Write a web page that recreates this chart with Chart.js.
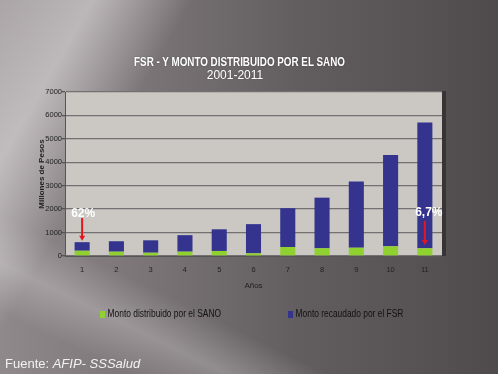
<!DOCTYPE html>
<html>
<head>
<meta charset="utf-8">
<script src="https://cdn.jsdelivr.net/npm/chart.js@4.4.0/dist/chart.umd.min.js"></script>
<style>
    html, body { margin: 0; padding: 0; }
    body {
        width: 498px; height: 374px; overflow: hidden; position: relative;
        background:
            linear-gradient(120deg, rgba(235,230,233,0.3) 0%, rgba(235,230,233,0.55) 13%, rgba(235,230,233,0) 27%),
            linear-gradient(26deg, rgba(235,230,233,0) 10%, rgba(235,230,233,0.28) 18%, rgba(235,230,233,0) 26%),
            linear-gradient(90deg, #8f898b 0%, #7a7476 30%, #625d5f 60%, #4f4b4d 100%);
        font-family: "Liberation Sans", Arial, sans-serif;
    }
    #wrap { position: absolute; left: 0; top: 0; width: 498px; height: 374px; }
    .txt { position: absolute; color: #fff; white-space: nowrap; }
    #title { left: 0; width: 479px; top: 55px; text-align: center; line-height: 14px;
        font-weight: bold; font-size: 12px; transform: scaleX(0.82);
        text-shadow: 0 0 2px rgba(0,0,0,0.35); }
    #subtitle { left: 0; width: 470px; top: 68px; text-align: center; line-height: 14px; font-size: 12px;
        text-shadow: 0 0 2px rgba(0,0,0,0.25); }
    #fuente { left: 5px; top: 356px; font-size: 13px; line-height: 16px; color: #f2f2f2; }
    .leg { position: absolute; top: 307px; line-height: 13px; color: #111; white-space: nowrap;
        font-size: 10px; transform: scaleX(0.84); transform-origin: 0 50%; }
    .leg i { display: inline-block; width: 6px; height: 7px; margin-right: 3px; vertical-align: -1px; }
</style>
</head>
<body>
<div id="wrap"><canvas id="chart" width="498" height="374"></canvas></div>
<div class="txt" id="title">FSR - Y MONTO DISTRIBUIDO POR EL SANO</div>
<div class="txt" id="subtitle">2001-2011</div>
<div id="legend"></div>
<div class="txt" id="fuente">Fuente: <i>AFIP- SSSalud</i></div>
<script>
const years = ['1', '2', '3', '4', '5', '6', '7', '8', '9', '10', '11'];
const sanoValues = [225, 185, 140, 185, 215, 115, 385, 330, 355, 415, 330];
const fsrValues = [365, 445, 530, 705, 925, 1245, 1655, 2160, 2825, 3895, 5370];
const seriesLabels = ['Monto distribuido por el SANO', 'Monto recaudado por el FSR'];
const seriesColors = ['#8fd12e', '#34348f'];

// annotations: bar index, text, text value, arrow start, arrow tip (data units)
const noteIndex = [0, 10];
const noteText = ['62%', '6,7%'];
const noteTextValue = [1800, 1830];
const noteArrowFrom = [1620, 1500];
const noteArrowTo = [650, 470];

const sans = '"Liberation Sans", Arial, sans-serif';

const plotBackground = {
    id: 'plotBackground',
    beforeDraw(chart) {
        const { ctx, chartArea: a } = chart;
        ctx.save();
        ctx.fillStyle = 'rgba(0,0,0,0.35)';
        ctx.fillRect(a.right, a.top - 1, 4, a.bottom - a.top + 1);
        ctx.fillStyle = '#cbc8c4';
        ctx.fillRect(a.left, a.top, a.right - a.left, a.bottom - a.top);
        ctx.restore();
    }
};

const notes = {
    id: 'notes',
    afterDatasetsDraw(chart) {
        const { ctx } = chart;
        const x = chart.scales.x, y = chart.scales.y;
        ctx.save();
        for (let i = 0; i < noteIndex.length; i++) {
            const px = x.getPixelForValue(noteIndex[i]);
            const y0 = y.getPixelForValue(noteArrowFrom[i]);
            const y1 = y.getPixelForValue(noteArrowTo[i]);
            ctx.strokeStyle = '#e3151f';
            ctx.fillStyle = '#e3151f';
            ctx.lineWidth = 2;
            ctx.beginPath();
            ctx.moveTo(px, y0);
            ctx.lineTo(px, y1 - 4);
            ctx.stroke();
            ctx.beginPath();
            ctx.moveTo(px - 3, y1 - 5);
            ctx.lineTo(px + 3, y1 - 5);
            ctx.lineTo(px, y1);
            ctx.closePath();
            ctx.fill();
            ctx.fillStyle = '#ffffff';
            ctx.font = 'bold 12px ' + sans;
            ctx.textAlign = 'center';
            ctx.textBaseline = 'middle';
            ctx.fillText(noteText[i], px + (i === 0 ? 1 : 4), y.getPixelForValue(noteTextValue[i]));
        }
        ctx.restore();
    }
};

const chart = new Chart(document.getElementById('chart'), {
    type: 'bar',
    data: {
        labels: years,
        datasets: [
            {
                label: seriesLabels[0],
                data: sanoValues,
                backgroundColor: seriesColors[0],
                barPercentage: 0.44,
                categoryPercentage: 1
            },
            {
                label: seriesLabels[1],
                data: fsrValues,
                backgroundColor: seriesColors[1],
                barPercentage: 0.44,
                categoryPercentage: 1
            }
        ]
    },
    options: {
        responsive: false,
        animation: false,
        layout: {
            padding: { left: 33, right: 56, top: 92, bottom: 83 }
        },
        plugins: {
            legend: { display: false },
            title: { display: false },
            tooltip: { enabled: false }
        },
        scales: {
            x: {
                stacked: true,
                afterFit(scale) { scale.height = 35; },
                grid: { display: false, drawTicks: false },
                border: { color: '#555', width: 1 },
                ticks: {
                    padding: 9,
                    color: '#222',
                    font: { family: sans, size: 7.5 }
                },
                title: {
                    display: true,
                    text: 'Años',
                    color: '#222',
                    padding: { top: 7, bottom: 0 },
                    font: { family: sans, size: 8 }
                }
            },
            y: {
                stacked: true,
                min: 0,
                max: 7000,
                afterFit(scale) { scale.width = 32; },
                grid: {
                    color: '#727070',
                    lineWidth: 1.3,
                    tickLength: 3,
                    tickColor: '#555'
                },
                border: { color: '#555', width: 1 },
                ticks: {
                    stepSize: 1000,
                    padding: 0,
                    color: '#222',
                    font: { family: sans, size: 7.5 },
                    callback: v => String(v)
                },
                title: {
                    display: true,
                    text: 'Millones de Pesos',
                    color: '#222',
                    padding: { top: 4, bottom: 0 },
                    font: { family: sans, size: 8, weight: 'bold' }
                }
            }
        }
    },
    plugins: [plotBackground, notes]
});

// legend built from the datasets
const legendLeft = [100, 288];
const legendEl = document.getElementById('legend');
chart.data.datasets.forEach((ds, i) => {
    const item = document.createElement('div');
    item.className = 'leg';
    item.style.left = legendLeft[i] + 'px';
    item.innerHTML = '<i style="background:' + ds.backgroundColor + '"></i>' + ds.label;
    legendEl.appendChild(item);
});
</script>
</body>
</html>
